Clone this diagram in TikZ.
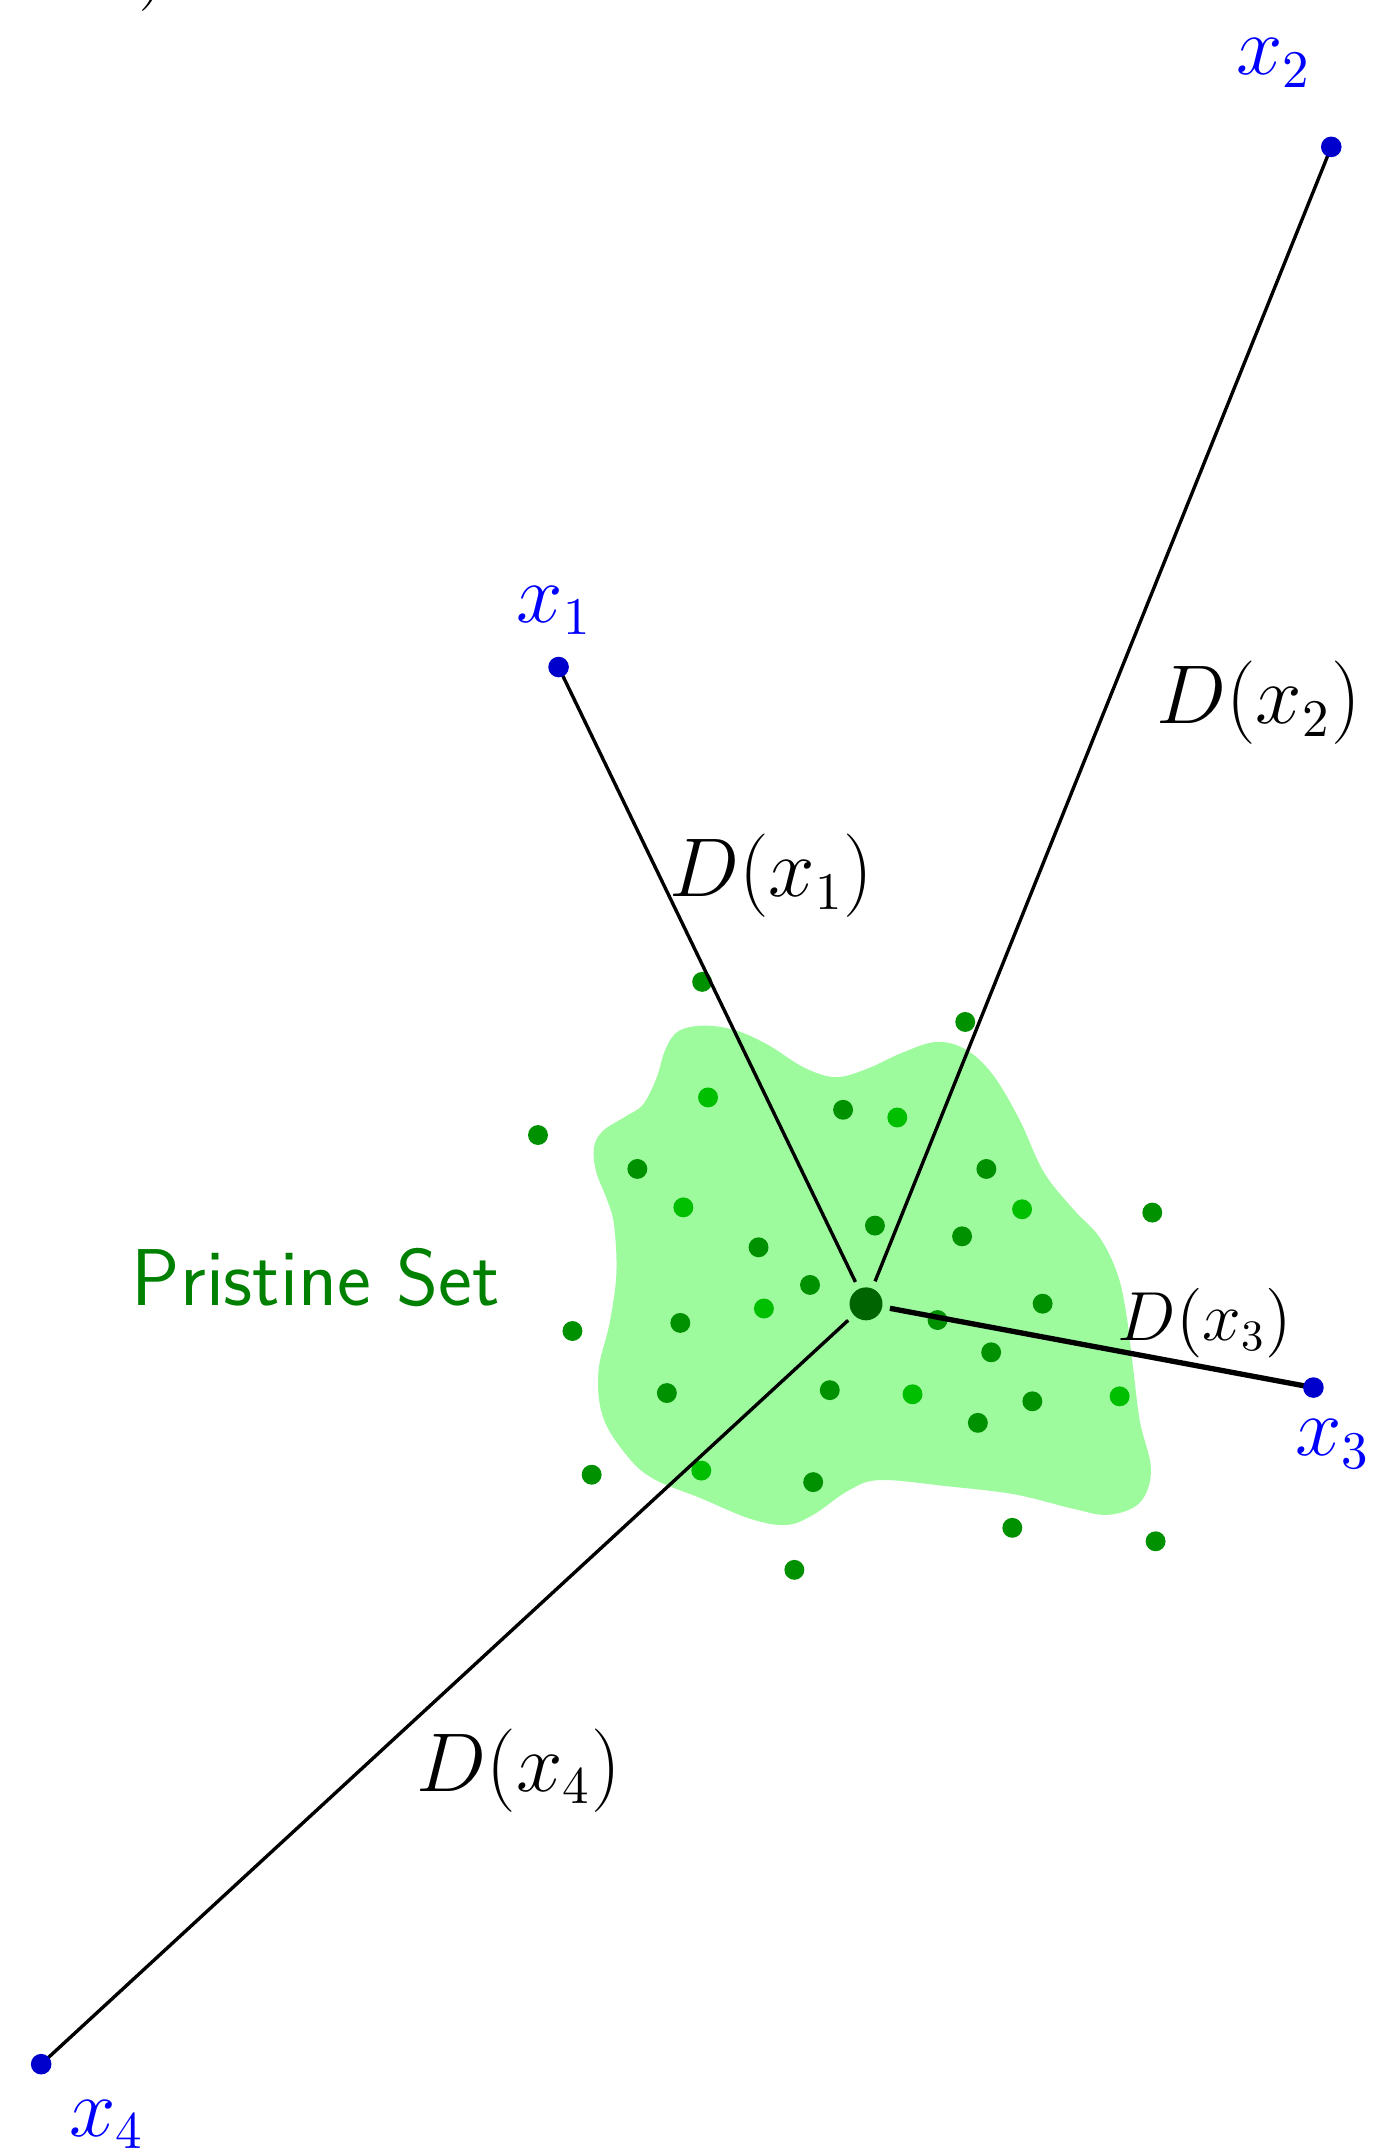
\documentclass[tikz,border=0pt]{standalone}
\definecolor{blobfill}{RGB}{157,250,157}
\definecolor{dkdot}{RGB}{0,145,0}
\definecolor{brdot}{RGB}{0,190,0}
\definecolor{ctrdot}{RGB}{0,100,0}
\definecolor{ptdot}{RGB}{0,0,204}
\definecolor{psgreen}{RGB}{0,128,0}
\begin{document}
\begin{tikzpicture}[x=0.01cm,y=-0.01cm,
  gd/.style={circle,fill=dkdot,inner sep=0pt,minimum size=1.45mm},
  bd/.style={circle,fill=brdot,inner sep=0pt,minimum size=1.45mm},
  pt/.style={circle,fill=ptdot,inner sep=0pt,minimum size=1.5mm},
  ctr/.style={circle,fill=ctrdot,inner sep=0pt,minimum size=2.4mm},
  ray/.style={draw=black,line width=0.7pt,shorten <=0.5mm},
  thickray/.style={draw=black,line width=1.1pt,shorten <=0.5mm},
  dlab/.style={inner sep=0pt,font=\fontsize{16}{19}\selectfont},
  xlab/.style={inner sep=0pt,text=blue,font=\fontsize{16}{19}\selectfont}]
\useasboundingbox (0,0) rectangle (1000,1568);
% blob
\fill[blobfill] plot[smooth cycle,tension=0.6] coordinates {
(494.7,751.1) (514.3,747.3) (537.1,751.1) (559.9,761.5) (586.0,777.9)
(608.8,784.8) (631.6,778.8) (657.7,766.9) (682.1,759.2) (703.3,764.5)
(722.9,782.4) (742.5,815.1) (760.4,853.8) (781.6,880.6) (801.1,901.4)
(814.2,928.2) (820.7,957.9) (825.6,996.6) (830.5,1035.3) (838.6,1070.9)
(830.5,1094.8) (807.7,1103.7) (781.6,1099.2) (739.2,1088.8) (690.3,1082.9)
(641.4,1078.4) (618.6,1085.8) (592.5,1103.7) (572.9,1111.1) (546.9,1106.7)
(511.0,1091.8) (475.1,1076.9) (455.6,1059.1) (439.3,1032.3) (436.0,999.6)
(444.2,963.9) (449.1,928.2) (447.4,892.5) (442.5,874.6) (434.4,853.8)
(432.8,835.9) (439.3,824.0) (455.6,813.6) (468.6,804.7) (478.4,785.3)
(484.9,764.5)};
% dark dots
\foreach \px/\py [count=\i] in {511.6/715.4, 703.3/744.6, 392/827, 614.3/808.6,
  464.4/851.7, 718.7/851.7, 839.6/883.5, 637.5/893.0, 552.7/908.8, 701.0/900.8,
  590.2/936.2, 759.7/949.9, 417.1/969.8, 495.7/963.9, 683.1/961.8, 722.2/985.3,
  485.9/1015.0, 604.6/1012.9, 752.2/1021.0, 712.5/1036.7, 431.1/1074.5,
  592.5/1079.9, 737.6/1113.2, 578.8/1143.8, 842/1123}
  \node[gd] (g\i) at (\px,\py) {};
% bright dots
\foreach \px/\py [count=\i] in {515.9/799.6, 653.8/814.2, 497.9/879.7, 744.7/881.1,
  556.6/953.4, 664.9/1015.9, 815.8/1017.4, 511.0/1071.5}
  \node[bd] (b\i) at (\px,\py) {};
% points
\node[ctr] (c) at (631,950) {};
\coordinate (x1) at (407,486);
\coordinate (x2) at (970,107);
\coordinate (x3) at (957,1011);
\coordinate (x4) at (30,1504);
\draw[ray] (c) -- (x1);
\draw[ray] (c) -- (x2);
\draw[thickray] (c) -- (x3);
\draw[ray] (c) -- (x4);
\node[pt] (p1) at (x1) {};
\node[pt] (p2) at (x2) {};
\node[pt] (p3) at (x3) {};
\node[pt] (p4) at (x4) {};
% labels
\node[xlab] (l1) at (404,445) {$x_1$};
\node[xlab] (l2) at (928,46) {$x_2$};
\node[xlab] (l3) at (971,1052) {$x_3$};
\node[xlab] (l4) at (78,1548) {$x_4$};
\node[dlab] (d1) at (562,638) {$D(x_1)$};
\node[dlab] (d2) at (917,512) {$D(x_2)$};
\node[dlab,font=\fontsize{13.3}{16}\selectfont] (d3) at (878,964) {$D(x_3)$};
\node[dlab] (d4) at (378,1290) {$D(x_4)$};
\node[inner sep=0pt,text=psgreen,font=\sffamily\fontsize{16.7}{20}\selectfont] (ps) at (230,931) {Pristine Set};
\node[dlab,anchor=base west] (frag) at (100,-7) {$)$};
\end{tikzpicture}
\end{document}
